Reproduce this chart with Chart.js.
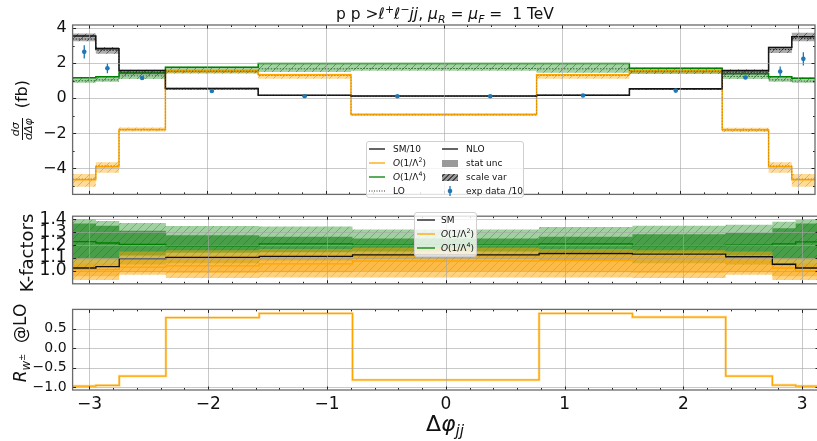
<!DOCTYPE html>
<html lang="en">
<head>
<meta charset="UTF-8">
<title>Delta phi jj distribution</title>
<style>
  body { margin: 0; overflow: hidden; background: #fff; font-family: "DejaVu Sans", sans-serif; color: #111; }
  #wrap { position: relative; width: 817px; height: 441px; overflow: hidden; }
  canvas { position: absolute; left: 0; }
  .title { position: absolute; left: 245px; width: 400px; top: 4px; text-align: center; font-size: 15.5px; line-height: 20px; white-space: nowrap; }
  sup, sub { font-size: 0.7em; line-height: 0; }
  .ylab { position: absolute; text-align: center; transform: rotate(-90deg); white-space: nowrap; }
  .frac { display: inline-flex; flex-direction: column; vertical-align: middle; font-style: italic; font-size: 11px; line-height: 12px; text-align: center; margin-right: 10px; }
  .frac span:first-child { border-bottom: 1px solid #111; }
  .xlab { position: absolute; left: 345px; width: 200px; top: 411px; text-align: center; font-size: 22px; line-height: 26px; }
  .legend { position: absolute; background: rgba(255,255,255,0.8); border: 1px solid #d0d0d0; border-radius: 3px; font-size: 9px; box-sizing: border-box; }
  .item { position: absolute; display: flex; align-items: center; height: 14px; white-space: nowrap; }
  .item .h { width: 16px; margin-right: 8px; display: flex; align-items: center; justify-content: center; }
  .hatch { display: inline-block; width: 16px; height: 7px; background: repeating-linear-gradient(-45deg, #444 0 1px, #9a9a9a 1px 3.5px); }
</style>
</head>
<body>
<div id="wrap">
  <canvas id="c1" width="819" height="210" style="top:0px"></canvas>
  <canvas id="c2" width="819" height="100" style="top:200px"></canvas>
  <canvas id="c3" width="819" height="146" style="top:295px"></canvas>

  <div class="title">p p &gt;<i>ℓ</i><sup>+</sup><i>ℓ</i><sup>−</sup><i>jj</i>, <i>μ</i><sub><i>R</i></sub> = <i>μ</i><sub><i>F</i></sub> =&nbsp; 1 TeV</div>

  <div class="ylab" style="left:-68px; top:93px; width:180px; height:34px; line-height:34px; font-size:16px;"><span class="frac"><span>dσ</span><span>dΔφ</span></span>(fb)</div>
  <div class="ylab" style="left:-23px; top:241px; width:100px; height:24px; line-height:24px; font-size:18px;">K-factors</div>
  <div class="ylab" style="left:-40px; top:331px; width:120px; height:24px; line-height:24px; font-size:17px;"><i>R</i><sub><i>w</i><sup>±</sup></sub>&nbsp; @LO</div>

  <div class="xlab">Δ<i>φ</i><sub><i>jj</i></sub></div>

  <div class="legend" style="left:366px; top:141px; width:158px; height:57px;">
    <div class="item" style="left:2px; top:0px;"><span class="h"><svg width="16" height="6"><line x1="0" y1="3" x2="16" y2="3" stroke="#111" stroke-width="1.3"/></svg></span><span>SM/10</span></div>
    <div class="item" style="left:2px; top:14px;"><span class="h"><svg width="16" height="6"><line x1="0" y1="3" x2="16" y2="3" stroke="orange" stroke-width="1.3"/></svg></span><span><i>O</i>(1/Λ<sup>2</sup>)</span></div>
    <div class="item" style="left:2px; top:28px;"><span class="h"><svg width="16" height="6"><line x1="0" y1="3" x2="16" y2="3" stroke="green" stroke-width="1.3"/></svg></span><span><i>O</i>(1/Λ<sup>4</sup>)</span></div>
    <div class="item" style="left:2px; top:42px;"><span class="h"><svg width="16" height="6"><line x1="0" y1="3" x2="16" y2="3" stroke="#333" stroke-width="1" stroke-dasharray="1,1.5"/></svg></span><span>LO</span></div>
    <div class="item" style="left:75px; top:0px;"><span class="h"><svg width="16" height="6"><line x1="0" y1="3" x2="16" y2="3" stroke="#111" stroke-width="1.3"/></svg></span><span>NLO</span></div>
    <div class="item" style="left:75px; top:14px;"><span class="h"><span style="display:inline-block;width:16px;height:7px;background:#999"></span></span><span>stat unc</span></div>
    <div class="item" style="left:75px; top:28px;"><span class="h"><span class="hatch"></span></span><span>scale var</span></div>
    <div class="item" style="left:75px; top:42px;"><span class="h"><svg width="16" height="12"><line x1="8" y1="1" x2="8" y2="11" stroke="#1f77b4" stroke-width="1.3"/><circle cx="8" cy="6" r="2.3" fill="#1f77b4"/></svg></span><span>exp data /10</span></div>
  </div>

  <div class="legend" style="left:414px; top:212px; width:63px; height:45px;">
    <div class="item" style="left:2px; top:0px;"><span class="h" style="width:18px;margin-right:6px"><svg width="18" height="6"><line x1="0" y1="3" x2="18" y2="3" stroke="#111" stroke-width="1.3"/></svg></span><span>SM</span></div>
    <div class="item" style="left:2px; top:14px;"><span class="h" style="width:18px;margin-right:6px"><svg width="18" height="6"><line x1="0" y1="3" x2="18" y2="3" stroke="orange" stroke-width="1.3"/></svg></span><span><i>O</i>(1/Λ<sup>2</sup>)</span></div>
    <div class="item" style="left:2px; top:28px;"><span class="h" style="width:18px;margin-right:6px"><svg width="18" height="6"><line x1="0" y1="3" x2="18" y2="3" stroke="green" stroke-width="1.3"/></svg></span><span><i>O</i>(1/Λ<sup>4</sup>)</span></div>
  </div>
</div>

<script src="https://cdn.jsdelivr.net/npm/chart.js"></script>
<script>
// bin edges in delta phi_jj (multiples of pi/16 .. pi/4)
const binEdges = [-3.1416, -2.9452, -2.7489, -2.3562, -1.5708, -0.7854, 0, 0.7854, 1.5708, 2.3562, 2.7489, 2.9452, 3.1416];
const xTicks = [-3, -2, -1, 0, 1, 2, 3];

// top panel: dsigma/dDphi (fb)
const yTicksTop = [4, 2, 0, -2, -4];
const yMinorTop = [3, 1, -1, -3, -5];
const smNlo    = [3.55, 2.83, 1.59, 0.56, 0.17, 0.13, 0.13, 0.18, 0.54, 1.57, 2.89, 3.51];
const smLo     = [3.38, 2.74, 1.50, 0.53, 0.16, 0.12, 0.12, 0.17, 0.52, 1.49, 2.78, 3.40];
const smBandLo = [3.26, 2.54, 1.36, 0.49, 0.13, 0.10, 0.10, 0.14, 0.48, 1.33, 2.58, 3.25];
const smBandHi = [3.70, 2.93, 1.63, 0.60, 0.20, 0.15, 0.15, 0.21, 0.59, 1.65, 2.94, 3.74];
const o2Nlo    = [-4.65, -3.91, -1.78, 1.58, 1.35, -0.92, -0.92, 1.35, 1.58, -1.80, -3.91, -4.65];
const o2Lo     = [-4.60, -3.85, -1.80, 1.50, 1.30, -0.95, -0.95, 1.30, 1.50, -1.82, -3.85, -4.60];
const o2BandLo = [-5.04, -4.24, -1.90, 1.38, 1.12, -0.99, -0.99, 1.12, 1.38, -1.92, -4.24, -5.04];
const o2BandHi = [-4.32, -3.64, -1.67, 1.63, 1.40, -0.85, -0.85, 1.40, 1.63, -1.68, -3.64, -4.32];
const o4Nlo    = [1.17, 1.23, 1.44, 1.77, 1.98, 1.98, 1.98, 1.98, 1.71, 1.41, 1.23, 1.14];
const o4Lo     = [1.00, 1.05, 1.28, 1.55, 1.68, 1.70, 1.70, 1.68, 1.55, 1.25, 1.05, 0.98];
const o4BandLo = [0.88, 0.95, 1.10, 1.45, 1.50, 1.57, 1.57, 1.45, 1.40, 1.10, 0.95, 0.88];
const o4BandHi = [1.21, 1.27, 1.50, 1.80, 2.02, 2.02, 2.02, 2.02, 1.75, 1.45, 1.27, 1.20];
const expX    = [-3.043, -2.847, -2.553, -1.963, -1.178, -0.393, 0.393, 1.178, 1.963, 2.553, 2.847, 3.043];
const expVals = [2.65, 1.71, 1.16, 0.42, 0.12, 0.11, 0.11, 0.16, 0.44, 1.19, 1.53, 2.25];
const expErrs = [0.38, 0.28, 0.06, 0.03, 0.02, 0.02, 0.02, 0.02, 0.03, 0.06, 0.29, 0.38];

// middle panel: K-factors
const yTicksK = [1.0, 1.1, 1.2, 1.3, 1.4];
const kSm = [1.023, 1.033, 1.096, 1.105, 1.113, 1.125, 1.125, 1.135, 1.13, 1.11, 1.052, 1.023];
const kO2 = [1.01, 1.01, 1.03, 1.04, 1.055, 1.077, 1.077, 1.08, 1.096, 1.058, 1.023, 1.0];
const kO4 = [1.227, 1.216, 1.206, 1.195, 1.21, 1.20, 1.20, 1.21, 1.196, 1.20, 1.21, 1.224];
const kO4ScaleLo = [1.03, 1.04, 1.05, 1.06, 1.08, 1.09, 1.09, 1.08, 1.06, 1.05, 1.04, 1.03];
const kO4ScaleHi = [1.40, 1.385, 1.37, 1.347, 1.343, 1.32, 1.32, 1.34, 1.35, 1.357, 1.38, 1.395];
const kO4StatLo  = [1.09, 1.09, 1.12, 1.14, 1.145, 1.15, 1.15, 1.145, 1.14, 1.12, 1.09, 1.09];
const kO4StatHi  = [1.366, 1.35, 1.31, 1.275, 1.264, 1.25, 1.25, 1.264, 1.283, 1.293, 1.33, 1.366];
const kO2ScaleLo = [0.93, 0.93, 0.97, 0.945, 0.95, 0.95, 0.95, 0.95, 0.945, 0.97, 0.93, 0.93];
const kO2ScaleHi = [1.10, 1.10, 1.15, 1.16, 1.17, 1.18, 1.18, 1.17, 1.16, 1.15, 1.10, 1.10];
const kO2StatLo  = [0.96, 0.96, 0.99, 0.985, 0.99, 1.0, 1.0, 0.99, 0.985, 0.99, 0.96, 0.96];
const kO2StatHi  = [1.06, 1.06, 1.10, 1.12, 1.13, 1.14, 1.14, 1.13, 1.12, 1.10, 1.06, 1.06];

// bottom panel: R_w+- @LO
const yTicksR = [0.5, 0.0, -0.5, -1.0];
const rW = [-0.978, -0.96, -0.72, 0.79, 0.896, -0.82, -0.82, 0.896, 0.80, -0.72, -0.955, -0.978];

// ---- helpers ----
// histogram: value i holds from edge i to edge i+1
function steps(vals) {
  const pts = vals.map((v, i) => ({ x: binEdges[i], y: v }));
  pts.push({ x: binEdges[binEdges.length - 1], y: vals[vals.length - 1] });
  return pts;
}

function hatch(fill, stroke) {
  const c = document.createElement('canvas');
  c.width = 8; c.height = 8;
  const g = c.getContext('2d');
  g.fillStyle = fill;
  g.fillRect(0, 0, 8, 8);
  g.strokeStyle = stroke;
  g.lineWidth = 1;
  g.beginPath();
  g.moveTo(0, 8); g.lineTo(8, 0);
  g.moveTo(-1, 1); g.lineTo(1, -1);
  g.moveTo(7, 9); g.lineTo(9, 7);
  g.stroke();
  return g.createPattern(c, 'repeat');
}

function band(lo, hi, color, order) {
  return [
    { data: steps(lo), borderColor: 'transparent', borderWidth: 0, pointRadius: 0, stepped: 'before', fill: false, order },
    { data: steps(hi), borderColor: 'transparent', borderWidth: 0, pointRadius: 0, stepped: 'before', fill: '-1', backgroundColor: color, order }
  ];
}

function stepLine(vals, color, width, dash, order) {
  return { data: steps(vals), borderColor: color, borderWidth: width, borderDash: dash || [], pointRadius: 0, stepped: 'before', fill: false, order };
}

const fmt = (v, d) => (v < 0 ? '\u2212' : '') + Math.abs(v).toFixed(d);

// grid, inward ticks, frame and error bars drawn over the data
const deco = {
  id: 'deco',
  afterDatasetsDraw(chart, args, o) {
    const { ctx, chartArea: a, scales: { x, y } } = chart;
    ctx.save();
    if (o.err) {
      ctx.strokeStyle = '#1f77b4';
      ctx.lineWidth = 1.3;
      ctx.beginPath();
      expX.forEach((xv, i) => {
        const px = x.getPixelForValue(xv);
        ctx.moveTo(px, y.getPixelForValue(expVals[i] - expErrs[i]));
        ctx.lineTo(px, y.getPixelForValue(expVals[i] + expErrs[i]));
      });
      ctx.stroke();
    }
    ctx.strokeStyle = 'rgba(165,165,165,0.6)';
    ctx.lineWidth = 1;
    ctx.beginPath();
    xTicks.forEach(v => {
      const p = Math.round(x.getPixelForValue(v)) + 0.5;
      ctx.moveTo(p, a.top); ctx.lineTo(p, a.bottom);
    });
    o.yTicks.forEach(v => {
      const p = Math.round(y.getPixelForValue(v)) + 0.5;
      ctx.moveTo(a.left, p); ctx.lineTo(a.right, p);
    });
    ctx.stroke();

    ctx.strokeStyle = '#222';
    ctx.beginPath();
    for (let i = -15; i <= 15; i++) {
      const p = Math.round(x.getPixelForValue(i / 5)) + 0.5;
      const len = i % 5 === 0 ? 3.5 : 2;
      ctx.moveTo(p, a.bottom); ctx.lineTo(p, a.bottom - len);
      ctx.moveTo(p, a.top); ctx.lineTo(p, a.top + len);
    }
    const yt = (vals, len) => vals.forEach(v => {
      const p = Math.round(y.getPixelForValue(v)) + 0.5;
      ctx.moveTo(a.left, p); ctx.lineTo(a.left + len, p);
      ctx.moveTo(a.right, p); ctx.lineTo(a.right - len, p);
    });
    yt(o.yTicks, 3.5);
    yt(o.yMinor || [], 2);
    ctx.stroke();

    ctx.strokeStyle = '#6a6a6a';
    ctx.lineWidth = 1.3;
    ctx.strokeRect(a.left, a.top, a.right - a.left, a.bottom - a.top);
    ctx.restore();
  }
};
Chart.register(deco);

function baseOptions(pad, yMin, yMax, yTicks, yMinor, yDec, yFont, err) {
  return {
    responsive: false,
    animation: false,
    layout: { padding: pad },
    plugins: {
      legend: { display: false },
      tooltip: { enabled: false },
      deco: { yTicks, yMinor, err }
    },
    scales: {
      x: { type: 'linear', min: binEdges[0], max: binEdges[binEdges.length - 1], display: false },
      y: {
        min: yMin, max: yMax,
        afterFit: s => { s.width = 72.6; },
        afterBuildTicks: s => { s.ticks = yTicks.map(v => ({ value: v })); },
        ticks: { autoSkip: false, padding: 6, color: '#111', font: { family: 'DejaVu Sans', size: yFont }, callback: v => fmt(v, yDec) },
        grid: { display: false, drawTicks: false },
        border: { display: false }
      }
    }
  };
}

// top panel
const gray = hatch('rgba(70,70,70,0.45)', 'rgba(30,30,30,0.55)');
const orangeBand = hatch('rgba(255,165,0,0.4)', 'rgba(225,135,0,0.5)');
const greenBand = hatch('rgba(0,128,0,0.35)', 'rgba(0,90,0,0.45)');
new Chart(document.getElementById('c1'), {
  type: 'line',
  data: {
    datasets: [
      ...band(smBandLo, smBandHi, gray, 10),
      ...band(o4BandLo, o4BandHi, greenBand, 10),
      ...band(o2BandLo, o2BandHi, orangeBand, 10),
      stepLine(smNlo, '#111', 1.5, null, 3),
      stepLine(smLo, '#222', 1, [1.5, 1.5], 2),
      stepLine(o4Nlo, 'green', 1.5, null, 3),
      stepLine(o4Lo, '#2a6a2a', 1, [1.5, 1.5], 2),
      stepLine(o2Nlo, 'orange', 1.5, null, 3),
      stepLine(o2Lo, '#c98a10', 1, [1.5, 1.5], 2),
      { data: expX.map((xv, i) => ({ x: xv, y: expVals[i] })), showLine: false, pointRadius: 2.3, pointBorderWidth: 0, pointBackgroundColor: '#1f77b4', borderColor: '#1f77b4', order: 0 }
    ]
  },
  options: baseOptions({ top: 25, bottom: 6, left: 0, right: 0 }, -5.48, 4.18, yTicksTop, yMinorTop, 0, 16, true)
});

// K-factor panel
new Chart(document.getElementById('c2'), {
  type: 'line',
  data: {
    datasets: [
      ...band(kO4ScaleLo, kO4ScaleHi, hatch('rgba(0,128,0,0.37)', 'rgba(0,100,0,0.3)'), 20),
      ...band(kO4StatLo, kO4StatHi, 'rgba(0,115,0,0.55)', 20),
      ...band(kO2ScaleLo, kO2ScaleHi, hatch('rgba(255,165,0,0.5)', 'rgba(200,120,0,0.3)'), 15),
      ...band(kO2StatLo, kO2StatHi, 'rgba(235,150,0,0.45)', 15),
      stepLine(kO4, 'green', 1.3, null, 3),
      stepLine(kO2, 'orange', 1.3, null, 3),
      stepLine(kSm, '#111', 1.3, null, 2)
    ]
  },
  options: baseOptions({ top: 7, bottom: 3, left: 0, right: 0 }, 0.901, 1.423, yTicksK, [], 1, 17, false)
});

// R_w panel
const opt3 = baseOptions({ top: 6, bottom: 0, left: 0, right: 0 }, -1.08, 1.0, yTicksR, [], 1, 14, false);
opt3.scales.x = {
  type: 'linear', min: binEdges[0], max: binEdges[binEdges.length - 1],
  afterFit: s => { s.height = 51; },
  afterBuildTicks: s => { s.ticks = xTicks.map(v => ({ value: v })); },
  ticks: { autoSkip: false, maxRotation: 0, padding: 4, color: '#111', font: { family: 'DejaVu Sans', size: 17 }, callback: v => fmt(v, 0) },
  grid: { display: false, drawTicks: false },
  border: { display: false }
};
new Chart(document.getElementById('c3'), {
  type: 'line',
  data: {
    datasets: [
      stepLine(rW, 'rgba(255,200,90,0.6)', 2.6, null, 2),
      stepLine(rW, 'orange', 1.3, null, 1)
    ]
  },
  options: opt3
});
</script>
</body>
</html>
